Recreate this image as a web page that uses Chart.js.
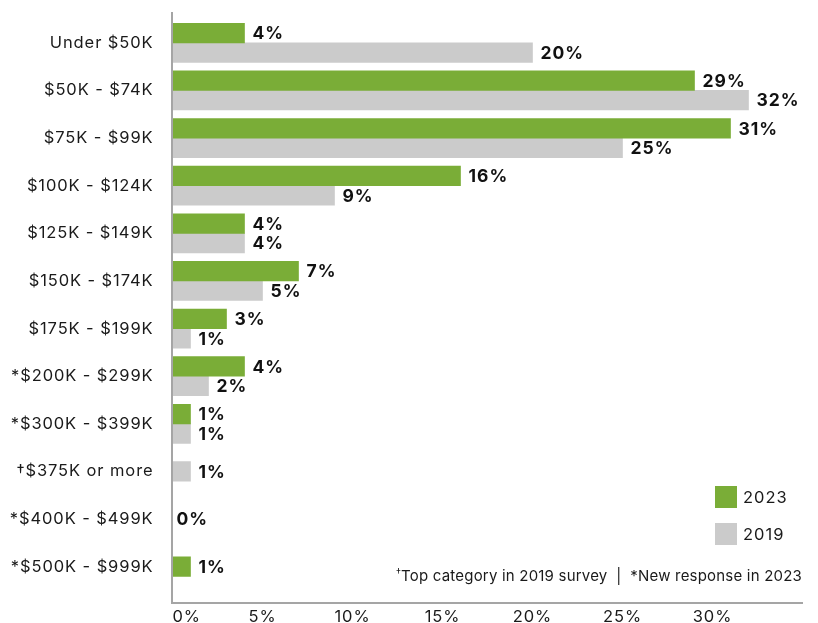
<!DOCTYPE html>
<html>
<head>
<meta charset="utf-8">
<title>Household income, 2023 vs 2019</title>
<script src="https://cdn.jsdelivr.net/npm/chart.js@4.4.0/dist/chart.umd.min.js"></script>
<style>
  html, body { margin: 0; padding: 0; background: #ffffff; }
  #wrap { position: relative; width: 818px; height: 623px; overflow: hidden;
          font-family: Inter, "Liberation Sans", sans-serif; color: #1a1a1a; }
  #c { position: absolute; left: 0; top: 0; }
  .legend-item { position: absolute; left: 715px; height: 22px; display: flex; align-items: center;
                 font-size: 16.5px; line-height: 16px; letter-spacing: 1px; }
  .legend-item .box { width: 22px; height: 22px; margin-right: 6px; }
  #note { position: absolute; right: 16px; top: 568px; font-size: 15px; line-height: 15px;
          letter-spacing: 0.2px; white-space: nowrap; }
  #note sup { font-size: 10px; vertical-align: 5px; line-height: 0; }
</style>
</head>
<body>
<div id="wrap">
  <canvas id="c" width="818" height="623"></canvas>
  <div id="legend"></div>
  <div id="note"><sup>†</sup>Top category in 2019 survey&nbsp; | &nbsp;*New response in 2023</div>
</div>
<script>
// Income brackets (top to bottom)
const categories = [
  'Under $50K', '$50K - $74K', '$75K - $99K', '$100K - $124K', '$125K - $149K',
  '$150K - $174K', '$175K - $199K', '*$200K - $299K', '*$300K - $399K',
  '†$375K or more', '*$400K - $499K', '*$500K - $999K'
];
// Share of respondents, percent (null = bracket not offered that year)
const values2023 = [4, 29, 31, 16, 4, 7, 3, 4, 1, null, 0, 1];
const values2019 = [20, 32, 25, 9, 4, 5, 1, 2, 1, 1, null, null];
const seriesNames = ['2023', '2019'];
const seriesColors = ['#7aad37', '#cbcbcb'];
const xTicks = [0, 5, 10, 15, 20, 25, 30];

const FONT = 'Inter, "Liberation Sans", sans-serif';
const AXIS_COLOR = '#a5a5a5';
const TEXT_COLOR = '#1a1a1a';

// HTML legend built from the series
const legendEl = document.getElementById('legend');
seriesNames.forEach((name, i) => {
  const item = document.createElement('div');
  item.className = 'legend-item';
  item.style.top = (486 + i * 37) + 'px';
  const box = document.createElement('span');
  box.className = 'box';
  box.style.background = seriesColors[i];
  item.appendChild(box);
  item.appendChild(document.createTextNode(name));
  legendEl.appendChild(item);
});

// Slightly loose tracking for axis text; first x tick label starts at the axis
const textSetup = {
  id: 'textSetup',
  beforeDraw(chart) {
    chart.ctx.letterSpacing = '0.9px';
    const items = chart.scales.x.getLabelItems();
    if (items && items.length) items[0].options.textAlign = 'left';
  }
};

// Axis lines extending slightly past the plot area
const axisLines = {
  id: 'axisLines',
  afterDatasetsDraw(chart) {
    const ctx = chart.ctx;
    const { left } = chart.chartArea;
    ctx.save();
    ctx.strokeStyle = AXIS_COLOR;
    ctx.lineWidth = 2;
    ctx.beginPath();
    ctx.moveTo(left - 0.5, 12);
    ctx.lineTo(left - 0.5, 604);
    ctx.moveTo(left - 1.5, 603);
    ctx.lineTo(803, 603);
    ctx.stroke();
    ctx.restore();
  }
};

// Bold value labels at the end of each bar
const valueLabels = {
  id: 'valueLabels',
  afterDatasetsDraw(chart) {
    const ctx = chart.ctx;
    ctx.save();
    ctx.font = 'bold 17.5px ' + FONT;
    ctx.letterSpacing = '1px';
    ctx.fillStyle = '#111111';
    ctx.textAlign = 'left';
    ctx.textBaseline = 'middle';
    chart.data.datasets.forEach((ds, di) => {
      const meta = chart.getDatasetMeta(di);
      meta.data.forEach((bar, i) => {
        const v = ds.data[i];
        if (v === null || v === undefined) return;
        const gap = v === 0 ? 4 : 8;
        ctx.fillText(v + '%', bar.x + gap, bar.y + 1);
      });
    });
    ctx.restore();
  }
};

new Chart(document.getElementById('c'), {
  type: 'bar',
  data: {
    labels: categories,
    datasets: [
      { label: seriesNames[0], data: values2023, backgroundColor: seriesColors[0] },
      { label: seriesNames[1], data: values2019, backgroundColor: seriesColors[1] }
    ]
  },
  options: {
    indexAxis: 'y',
    responsive: false,
    animation: false,
    devicePixelRatio: 1,
    layout: { padding: { top: 19, right: 15.5, bottom: 0, left: 0 } },
    datasets: { bar: { barThickness: 19.5, skipNull: true, borderWidth: 0 } },
    plugins: { legend: { display: false }, tooltip: { enabled: false } },
    scales: {
      y: {
        grid: { display: false, drawTicks: false },
        border: { display: false },
        ticks: { color: TEXT_COLOR, padding: 19, font: { family: FONT, size: 16.5 } },
        afterFit(s) { s.width = 172.5; s.paddingTop = 0; s.paddingBottom = 0; }
      },
      x: {
        min: 0,
        max: 35,
        grid: { display: false, drawTicks: false },
        border: { display: false },
        afterBuildTicks(s) { s.ticks = xTicks.map(v => ({ value: v })); },
        ticks: {
          color: TEXT_COLOR, padding: 16.5, maxRotation: 0, autoSkip: false,
          font: { family: FONT, size: 16.5 },
          callback: v => v + '%'
        },
        afterFit(s) { s.height = 32.5; s.paddingLeft = 0; s.paddingRight = 0; }
      }
    }
  },
  plugins: [textSetup, axisLines, valueLabels]
});
</script>
</body>
</html>
